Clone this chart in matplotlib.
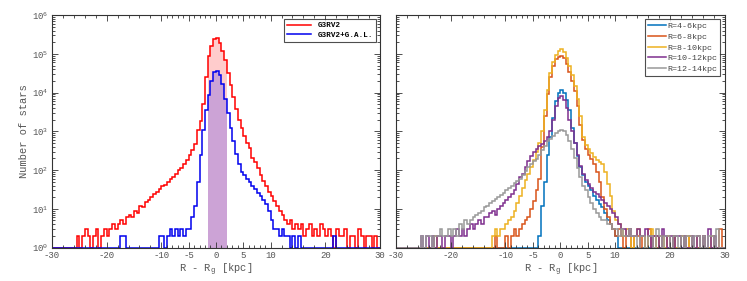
import numpy as np
import matplotlib
matplotlib.use('Agg')
import matplotlib.pyplot as plt
from matplotlib.ticker import FixedLocator, LogLocator, NullFormatter, FuncFormatter

# histogram bins: 0.5 kpc from -30 to 30 (120 bins)
edges = np.arange(-30, 30.01, 0.5)

# left panel counts (0 = empty bin)
g3rv2 = [0, 0, 0, 0, 0, 0, 0, 0, 0, 2,
         0, 2, 3, 2, 0, 2, 3, 0, 2, 3,
         2, 3, 4, 3, 4, 5, 4, 6, 7, 6,
         9, 8, 12, 11, 15, 17, 20, 24, 28, 33,
         38, 42, 50, 58, 68, 80, 98, 115, 140, 180,
         250, 330, 480, 1100, 1800, 5000, 25000, 90000, 160000, 240000,
         250000, 190000, 120000, 70000, 33000, 16000, 7500, 3800, 2000, 1200,
         750, 500, 380, 200, 160, 110, 75, 52, 40, 28,
         22, 16, 12, 9, 7, 5, 4, 5, 3, 4,
         3, 4, 2, 3, 4, 2, 3, 2, 4, 3,
         2, 3, 2, 0, 3, 2, 2, 3, 0, 2,
         2, 0, 3, 2, 0, 2, 2, 0, 2, 0]
g3rv2_gal = [0, 0, 0, 0, 0, 0, 0, 0, 0, 0,
             0, 0, 0, 0, 0, 0, 0, 0, 0, 0,
             0, 0, 0, 0, 0, 2, 2, 0, 0, 0,
             0, 0, 0, 0, 0, 0, 0, 0, 0, 2,
             2, 0, 2, 3, 2, 3, 2, 3, 2, 3,
             3, 6, 12, 50, 250, 1100, 3500, 8500, 20000, 34000,
             37000, 28000, 17000, 7000, 3000, 1200, 550, 260, 140, 90,
             75, 60, 50, 40, 32, 26, 22, 17, 13, 9,
             5, 3, 3, 2, 3, 2, 2, 0, 2, 0,
             2, 0, 0, 0, 0, 0, 0, 0, 0, 0,
             0, 0, 0, 2, 0, 0, 0, 0, 0, 0,
             0, 0, 0, 0, 0, 0, 0, 0, 0, 0]
band = (-1.5, 2.0)

# right panel counts per galactocentric radius bin
r_labels = ['R=4-6kpc', 'R=6-8kpc', 'R=8-10kpc', 'R=10-12kpc', 'R=12-14kpc']
r4_6 = [0, 0, 0, 0, 0, 0, 0, 0, 0, 0,
        0, 0, 0, 0, 0, 0, 0, 0, 0, 0,
        0, 0, 0, 0, 0, 0, 0, 0, 0, 0,
        0, 0, 0, 0, 0, 0, 0, 0, 0, 0,
        0, 0, 0, 0, 0, 0, 0, 0, 0, 0,
        0, 0, 2, 12, 50, 250, 700, 2200, 6000, 10000,
        12000, 10000, 6500, 3500, 1200, 500, 230, 120, 75, 50,
        40, 30, 22, 17, 13, 11, 8, 5, 4, 3,
        2, 0, 0, 0, 0, 0, 0, 0, 0, 0,
        0, 0, 0, 0, 0, 0, 0, 0, 0, 0,
        0, 0, 0, 0, 0, 0, 0, 0, 0, 0,
        0, 0, 0, 0, 0, 0, 0, 0, 0, 0]
r6_8 = [0, 0, 0, 0, 0, 0, 0, 0, 0, 0,
        0, 0, 0, 0, 0, 0, 0, 0, 0, 0,
        0, 0, 0, 0, 0, 0, 0, 0, 0, 0,
        0, 0, 0, 0, 0, 0, 2, 0, 0, 0,
        2, 0, 2, 3, 2, 3, 4, 5, 6, 10,
        16, 30, 60, 400, 2500, 9000, 25000, 48000, 72000, 85000,
        90000, 78000, 55000, 35000, 20000, 11000, 4500, 1500, 600, 350,
        250, 190, 140, 90, 50, 20, 10, 6, 4, 3,
        2, 3, 2, 0, 2, 3, 0, 2, 2, 0,
        2, 0, 3, 0, 2, 0, 2, 0, 0, 2,
        0, 2, 0, 0, 2, 0, 0, 2, 0, 0,
        0, 0, 2, 0, 0, 0, 0, 0, 3, 0]
r8_10 = [0, 0, 0, 0, 0, 0, 0, 0, 0, 0,
         0, 0, 0, 0, 2, 0, 0, 0, 0, 0,
         0, 0, 0, 0, 0, 0, 0, 0, 0, 0,
         0, 0, 0, 0, 0, 2, 3, 2, 3, 3,
         4, 5, 6, 9, 14, 22, 35, 55, 80, 120,
         180, 300, 500, 1000, 3500, 12000, 32000, 60000, 95000, 120000,
         130000, 110000, 80000, 50000, 28000, 15000, 7000, 2500, 700, 450,
         350, 280, 220, 180, 160, 140, 90, 45, 22, 9,
         5, 4, 3, 2, 3, 2, 0, 2, 3, 2,
         2, 0, 2, 3, 0, 2, 0, 2, 0, 2,
         0, 2, 0, 0, 2, 0, 2, 0, 0, 0,
         2, 0, 0, 0, 0, 2, 0, 0, 0, 0]
r10_12 = [0, 0, 0, 0, 0, 0, 0, 0, 0, 2,
          0, 2, 0, 2, 0, 2, 2, 0, 2, 2,
          0, 2, 3, 2, 3, 2, 3, 4, 3, 4,
          5, 4, 6, 6, 8, 9, 7, 10, 12, 14,
          17, 20, 24, 30, 45, 65, 80, 120, 170, 230,
          300, 360, 420, 480, 560, 700, 1000, 2000, 4500, 7200,
          8000, 6500, 4000, 2000, 1000, 500, 250, 130, 80, 55,
          45, 35, 28, 24, 20, 17, 14, 12, 10, 8,
          6, 4, 3, 3, 2, 3, 2, 2, 3, 2,
          2, 3, 2, 0, 2, 2, 0, 3, 2, 0,
          2, 0, 2, 2, 0, 2, 0, 0, 2, 0,
          2, 0, 2, 0, 3, 0, 2, 0, 0, 0]
r12_14 = [0, 0, 0, 0, 0, 0, 0, 0, 0, 2,
          0, 2, 2, 0, 2, 2, 3, 2, 2, 3,
          2, 3, 2, 4, 3, 5, 4, 5, 6, 7,
          8, 9, 11, 12, 14, 16, 18, 20, 23, 25,
          30, 35, 40, 46, 52, 60, 75, 95, 120, 145,
          170, 190, 250, 330, 430, 550, 650, 780, 900, 1000,
          1070, 1000, 800, 550, 350, 200, 110, 65, 40, 30,
          20, 14, 10, 8, 6, 5, 5, 4, 4, 3,
          3, 2, 3, 2, 2, 3, 2, 2, 0, 2,
          2, 0, 2, 2, 0, 3, 2, 0, 2, 2,
          0, 2, 2, 0, 2, 0, 2, 2, 0, 2,
          2, 0, 2, 0, 2, 2, 0, 3, 0, 0]
r_series = [r4_6, r6_8, r8_10, r10_12, r12_14]
r_colors = ['#0072BD', '#D95319', '#EDB120', '#7E2F8E', '#999999']

mono = 'Liberation Mono'
txt = '#555555'
plt.rcParams['font.family'] = mono
plt.rcParams['axes.unicode_minus'] = False
plt.rcParams['mathtext.fontset'] = 'custom'
plt.rcParams['mathtext.rm'] = mono
plt.rcParams['mathtext.it'] = mono

fig = plt.figure(figsize=(7.47, 2.81), dpi=100)
ax1 = fig.add_axes([0.0696, 0.119, 0.439, 0.827])
ax2 = fig.add_axes([0.530, 0.119, 0.440, 0.827])


def style(ax):
    ax.set_yscale('log')
    ax.set_xlim(-30, 30)
    ax.set_ylim(1, 1e6)
    ax.xaxis.set_major_locator(FixedLocator([-30, -20, -10, -5, 0, 5, 10, 20, 30]))
    minors = list(range(-30, -10, 2)) + list(range(-10, 11)) + list(range(12, 31, 2))
    ax.xaxis.set_minor_locator(FixedLocator(minors))
    ax.yaxis.set_major_locator(LogLocator(base=10, numticks=10))
    ax.yaxis.set_minor_locator(LogLocator(base=10, subs=np.arange(2, 10), numticks=20))
    ax.yaxis.set_minor_formatter(NullFormatter())
    ax.yaxis.set_major_formatter(FuncFormatter(lambda v, p: '10$^{%d}$' % round(np.log10(v))))
    ax.tick_params(which='both', direction='in', top=True, right=True,
                   labelsize=6.5, labelcolor=txt, color='#333333', width=0.6, pad=2.5)
    ax.tick_params(which='major', length=4)
    ax.tick_params(which='minor', length=2)
    for s in ax.spines.values():
        s.set_color('#333333')
        s.set_linewidth(0.8)
    ax.set_xlabel('R - R$_{g}$ [kpc]', fontsize=7.5, color=txt, labelpad=1)


style(ax1)
style(ax2)
ax2.tick_params(labelleft=False)

# left panel
red = np.maximum(np.array(g3rv2, float), 1)
blue = np.maximum(np.array(g3rv2_gal, float), 1)
sel = (edges[:-1] >= band[0]) & (edges[:-1] < band[1])
xb = np.append(edges[:-1][sel], band[1])
ax1.fill_between(xb, np.append(red[sel], red[sel][-1]), 1, step='post',
                 color='red', alpha=0.2, lw=0)
ax1.fill_between(xb, np.append(blue[sel], blue[sel][-1]), 1, step='post',
                 color='blue', alpha=0.2, lw=0)
ax1.stairs(red, edges, baseline=None, color='red', lw=1.1, label='G3RV2')
ax1.stairs(blue, edges, baseline=None, color='#0000EE', lw=1.1, label='G3RV2+G.A.L.')
ax1.set_ylabel('Number of stars', fontsize=7.5, color=txt, labelpad=2)
leg = ax1.legend(loc='upper right', prop={'family': mono, 'weight': 'bold', 'size': 5.5},
                 fancybox=False, edgecolor='#222222', borderaxespad=0.5, handlelength=3.2,
                 borderpad=0.4, labelspacing=0.3)
leg.get_frame().set_linewidth(0.8)

# right panel
for vals, lab, col in zip(r_series, r_labels, r_colors):
    ax2.stairs(np.maximum(np.array(vals, float), 1), edges, baseline=None,
               color=col, lw=1.1, label=lab)
leg2 = ax2.legend(loc='upper right', prop={'family': mono, 'size': 6},
                  fancybox=False, edgecolor='#222222', borderaxespad=0.5, handlelength=2.2,
                  handletextpad=0.2, borderpad=0.35, labelspacing=0.35)
leg2.get_frame().set_linewidth(0.8)
for t in leg2.get_texts():
    t.set_color('#444444')

fig.savefig('out.png', dpi=100)
